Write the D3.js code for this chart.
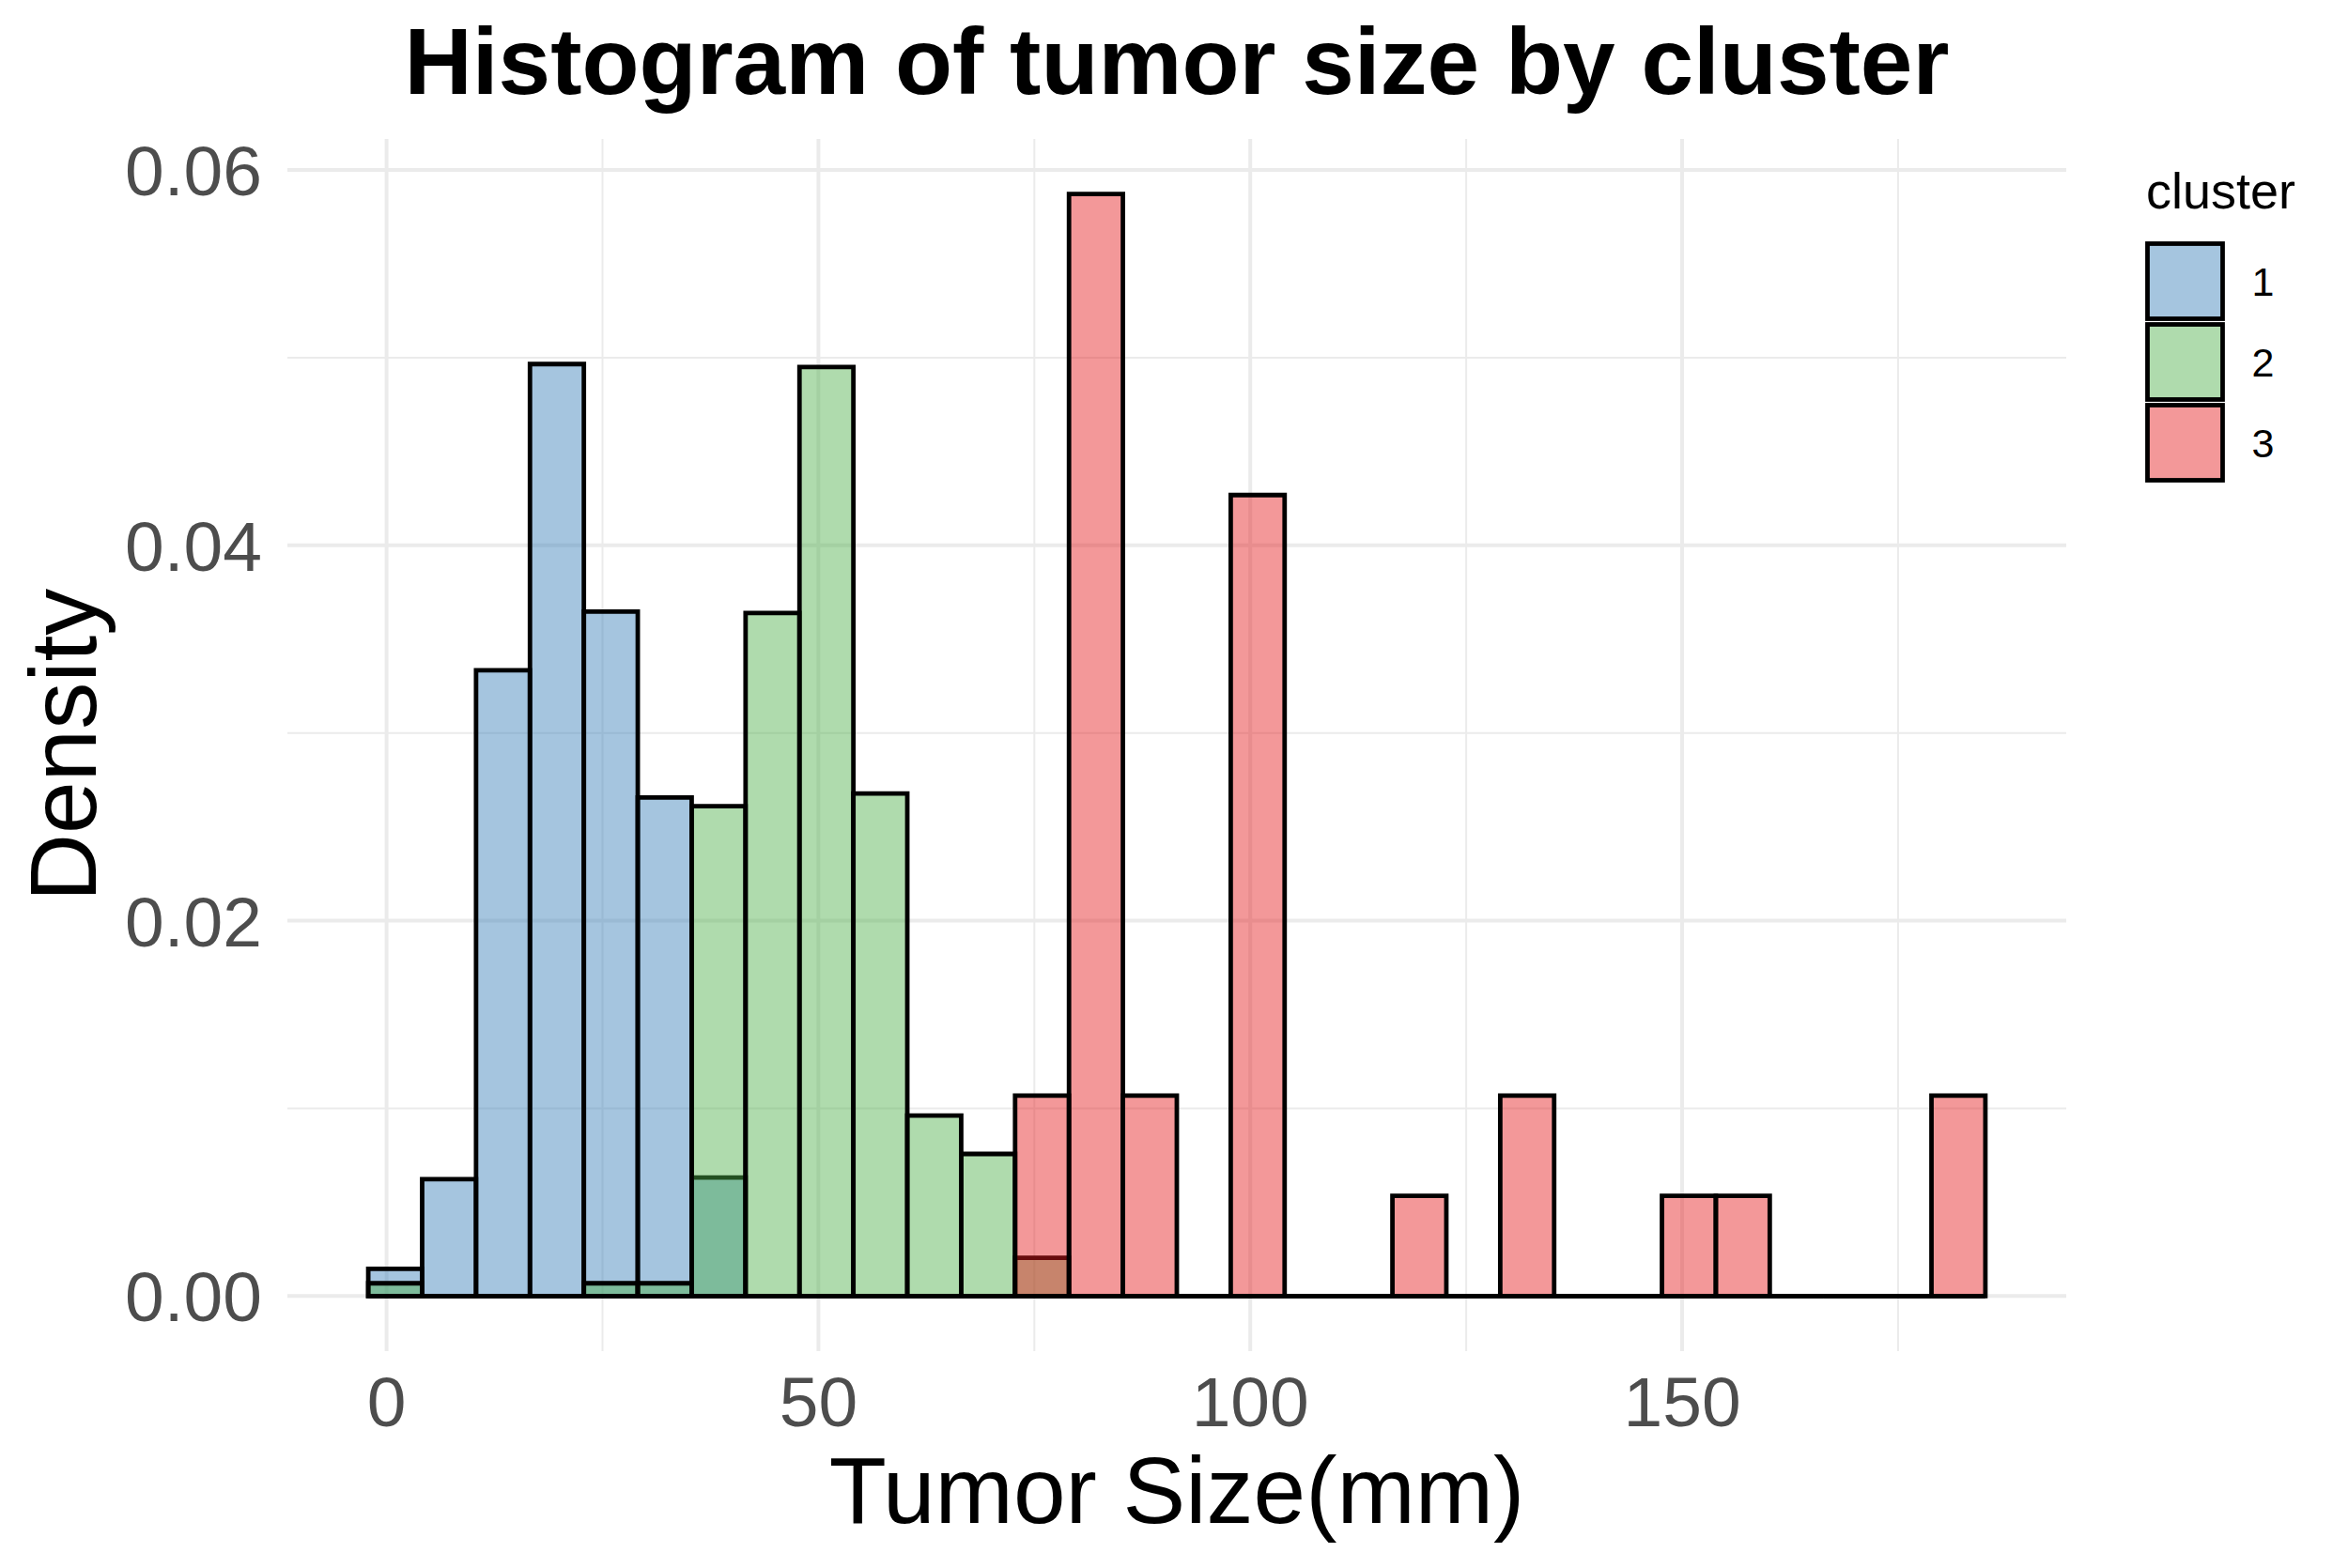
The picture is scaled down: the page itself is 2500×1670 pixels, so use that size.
<!DOCTYPE html>
<html>
<head>
  <meta charset="utf-8">
  <style>
    html, body { margin: 0; padding: 0; background: #fff; }
    svg { display: block; font-family: "Liberation Sans", Arial, sans-serif; }
  </style>
</head>
<body>
<script src="https://d3js.org/d3.v7.min.js"></script>
<div id="chart"></div>
<script>
  // histogram bins (30 bins, shared by all clusters)
  const binStart = -2.12;
  const binWidth = 6.241;

  // density per bin
  const cluster1 = [0.00145, 0.00623, 0.03334, 0.04966, 0.03647, 0.02656, 0.00631, 0, 0, 0,
                    0, 0, 0, 0, 0, 0, 0, 0, 0, 0,
                    0, 0, 0, 0, 0, 0, 0, 0, 0, 0];
  const cluster2 = [0.00068, 0, 0, 0, 0.00068, 0.00068, 0.0261, 0.0364, 0.0495, 0.02678,
                    0.00962, 0.00757, 0.00204, 0, 0, 0, 0, 0, 0, 0,
                    0, 0, 0, 0, 0, 0, 0, 0, 0, 0];
  const cluster3 = [0, 0, 0, 0, 0, 0, 0, 0, 0, 0,
                    0, 0, 0.01068, 0.05872, 0.01068, 0, 0.04268, 0, 0, 0.00534,
                    0, 0.01068, 0, 0, 0.00534, 0.00534, 0, 0, 0, 0.01068];

  const clusterNames = ["1", "2", "3"];
  const clusterColors = ["#377EB8", "#4DAF4A", "#E41A1C"];
  const xTicks = [0, 50, 100, 150];
  const xMinor = [25, 75, 125, 175];
  const yTicks = [0, 0.02, 0.04, 0.06];
  const yMinor = [0.01, 0.03, 0.05];

  const W = 2500, H = 1670;
  const panel = { left: 306, right: 2200, top: 148, bottom: 1439 };
  const outline = 4.8;

  const series = [cluster1, cluster2, cluster3].map((vals, i) => ({
    name: clusterNames[i],
    color: clusterColors[i],
    bins: vals.map((v, j) => ({ x0: binStart + j * binWidth, x1: binStart + (j + 1) * binWidth, y: v }))
  }));

  // ggplot style 5% expansion
  const xLo = binStart, xHi = binStart + cluster1.length * binWidth;
  const xPad = (xHi - xLo) * 0.05;
  const yMax = d3.max(series, s => d3.max(s.bins, b => b.y));
  const yPad = yMax * 0.05;

  const x = d3.scaleLinear().domain([xLo - xPad, xHi + xPad]).range([panel.left, panel.right]);
  const y = d3.scaleLinear().domain([-yPad, yMax + yPad]).range([panel.bottom, panel.top]);

  const svg = d3.select("#chart").append("svg")
    .attr("width", W)
    .attr("height", H);

  // grid
  const grid = svg.append("g");
  grid.selectAll(".vminor").data(xMinor).join("line")
    .attr("x1", d => x(d)).attr("x2", d => x(d))
    .attr("y1", panel.top).attr("y2", panel.bottom)
    .attr("stroke", "#ebebeb").attr("stroke-width", 2);
  grid.selectAll(".hminor").data(yMinor).join("line")
    .attr("y1", d => y(d)).attr("y2", d => y(d))
    .attr("x1", panel.left).attr("x2", panel.right)
    .attr("stroke", "#ebebeb").attr("stroke-width", 2);
  grid.selectAll(".vmajor").data(xTicks).join("line")
    .attr("x1", d => x(d)).attr("x2", d => x(d))
    .attr("y1", panel.top).attr("y2", panel.bottom)
    .attr("stroke", "#ebebeb").attr("stroke-width", 4);
  grid.selectAll(".hmajor").data(yTicks).join("line")
    .attr("y1", d => y(d)).attr("y2", d => y(d))
    .attr("x1", panel.left).attr("x2", panel.right)
    .attr("stroke", "#ebebeb").attr("stroke-width", 4);

  // bars, drawn as paths so empty bins still show their outline on the baseline
  series.forEach(s => {
    svg.append("g").selectAll("path").data(s.bins).join("path")
      .attr("d", b => {
        const x0 = x(b.x0), x1 = x(b.x1), y0 = y(0), y1 = y(b.y);
        return `M${x0},${y0}H${x1}V${y1}H${x0}Z`;
      })
      .attr("fill", s.color)
      .attr("fill-opacity", 0.45)
      .attr("stroke", "#000")
      .attr("stroke-width", outline)
      .attr("stroke-linejoin", "miter");
  });

  // axis tick labels
  svg.append("g").selectAll("text").data(xTicks).join("text")
    .attr("x", d => x(d))
    .attr("y", 1519)
    .attr("text-anchor", "middle")
    .attr("font-size", 75)
    .attr("fill", "#4d4d4d")
    .text(d => d);

  svg.append("g").selectAll("text").data(yTicks).join("text")
    .attr("x", 279)
    .attr("y", d => y(d))
    .attr("dy", "0.36em")
    .attr("text-anchor", "end")
    .attr("font-size", 75)
    .attr("fill", "#4d4d4d")
    .text(d => d.toFixed(2));

  // titles
  const cx = (panel.left + panel.right) / 2;
  svg.append("text")
    .attr("x", cx).attr("y", 100)
    .attr("text-anchor", "middle")
    .attr("font-size", 100)
    .attr("font-weight", "bold")
    .text("Histogram of tumor size by cluster");

  svg.append("text")
    .attr("x", cx).attr("y", 1622)
    .attr("text-anchor", "middle")
    .attr("font-size", 100)
    .text("Tumor Size(mm)");

  svg.append("text")
    .attr("transform", `translate(102, ${(panel.top + panel.bottom) / 2}) rotate(-90)`)
    .attr("text-anchor", "middle")
    .attr("font-size", 100)
    .text("Density");

  // legend
  const legend = svg.append("g");
  legend.append("text")
    .attr("x", 2285).attr("y", 222)
    .attr("font-size", 54)
    .text("cluster");

  const keys = legend.selectAll(".key").data(series).join("g")
    .attr("transform", (d, i) => `translate(2286.5, ${259.5 + i * 86})`);
  keys.append("rect")
    .attr("width", 80).attr("height", 80)
    .attr("fill", d => d.color)
    .attr("fill-opacity", 0.45)
    .attr("stroke", "#000")
    .attr("stroke-width", outline);
  keys.append("text")
    .attr("x", 111).attr("y", 40)
    .attr("dy", "0.36em")
    .attr("font-size", 43)
    .text(d => d.name);
</script>
</body>
</html>
